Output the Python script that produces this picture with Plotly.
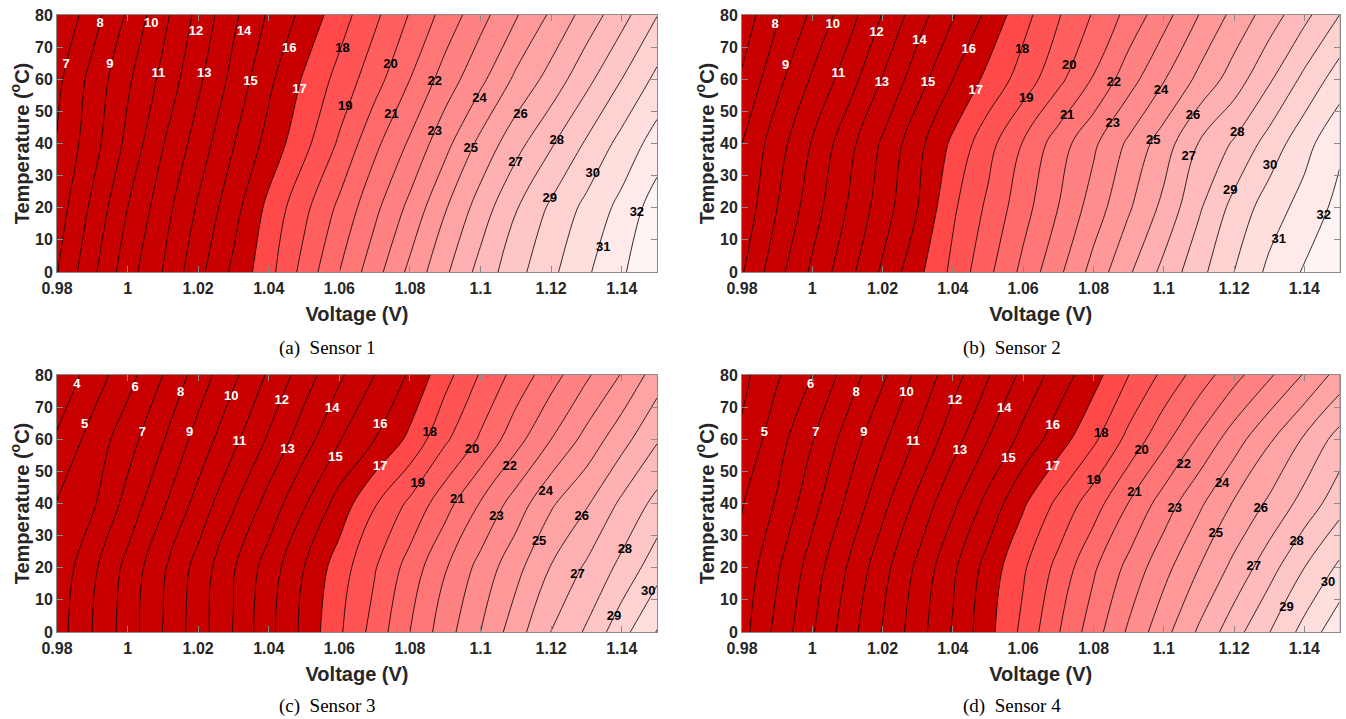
import plotly.graph_objects as go

# ---------------- data ----------------
voltage = [0.98, 0.99, 1.00, 1.01, 1.02, 1.03, 1.04, 1.05, 1.06,
           1.07, 1.08, 1.09, 1.10, 1.11, 1.12, 1.13, 1.14, 1.15]
temperature = [0, 20, 40, 60, 80]

sensor1_z = [
    [7.96, 9.76, 11.58, 13.03, 14.70, 16.21, 17.67, 19.35, 21.00, 22.60, 24.25, 25.82, 27.36, 28.65, 29.77, 30.85, 31.86, 32.90],
    [7.48, 9.21, 11.00, 12.57, 14.13, 15.63, 17.27, 18.74, 20.22, 21.75, 23.27, 24.92, 26.46, 27.93, 29.18, 30.27, 31.30, 32.50],
    [7.05, 8.58, 10.27, 11.95, 13.44, 14.96, 16.35, 17.71, 19.15, 20.75, 22.15, 23.69, 25.27, 26.64, 27.88, 29.13, 30.33, 31.45],
    [6.75, 8.32, 9.83, 11.26, 12.80, 14.30, 15.78, 17.12, 18.33, 19.59, 21.00, 22.44, 23.75, 25.20, 26.38, 27.71, 29.00, 30.25],
    [6.06, 7.55, 9.14, 10.71, 12.28, 13.79, 15.13, 16.28, 17.55, 18.78, 20.07, 21.37, 22.65, 23.91, 25.16, 26.40, 27.65, 28.97],
]
sensor2_z = [
    [8.91, 10.65, 12.19, 13.66, 15.16, 16.73, 18.25, 19.76, 21.27, 22.77, 24.36, 25.85, 27.29, 28.67, 30.00, 31.23, 32.10, 33.00],
    [8.32, 10.00, 11.55, 13.04, 14.52, 16.00, 17.83, 19.21, 20.62, 22.01, 23.46, 24.87, 26.27, 27.86, 29.33, 30.50, 31.38, 32.30],
    [8.00, 9.54, 11.08, 12.62, 14.15, 15.69, 17.21, 18.64, 20.07, 21.50, 22.81, 24.19, 25.50, 27.05, 28.13, 29.40, 30.65, 31.80],
    [7.13, 8.71, 10.13, 11.50, 13.06, 14.56, 16.00, 17.28, 18.44, 19.73, 21.08, 22.58, 23.93, 25.24, 26.47, 27.86, 29.25, 30.50],
    [6.43, 7.86, 9.19, 10.54, 12.05, 13.55, 14.93, 16.24, 17.65, 18.92, 20.09, 21.31, 22.63, 24.01, 25.29, 26.47, 27.73, 29.00],
]
sensor3_z = [
    [5.54, 7.01, 8.48, 10.03, 11.52, 13.05, 14.71, 16.27, 17.85, 19.39, 21.00, 22.56, 24.00, 25.55, 27.02, 28.13, 29.66, 31.05],
    [5.29, 6.77, 8.31, 9.85, 11.38, 12.92, 14.47, 16.00, 17.51, 18.92, 20.42, 21.93, 23.34, 24.68, 26.06, 27.16, 28.27, 29.60],
    [5.05, 5.83, 7.35, 8.86, 10.36, 11.88, 13.38, 14.89, 16.41, 17.92, 19.21, 20.62, 22.07, 23.44, 24.86, 25.88, 27.20, 28.30],
    [4.13, 5.38, 6.57, 7.93, 9.39, 10.75, 12.14, 13.57, 14.93, 16.00, 17.23, 18.83, 20.14, 21.62, 23.00, 24.33, 25.63, 26.90],
    [3.19, 4.44, 5.63, 7.00, 8.45, 9.80, 11.14, 12.50, 13.83, 15.00, 16.14, 17.64, 19.10, 20.34, 21.58, 22.83, 24.07, 25.50],
]
sensor4_z = [
    [5.63, 7.30, 8.89, 10.53, 12.07, 13.58, 15.10, 16.68, 18.26, 19.93, 21.54, 23.16, 24.66, 26.15, 27.60, 28.97, 30.34, 31.70],
    [5.31, 6.87, 8.46, 10.05, 11.63, 13.22, 14.81, 16.40, 17.86, 19.31, 20.85, 22.29, 23.67, 25.00, 26.27, 27.60, 29.00, 30.20],
    [4.94, 6.11, 7.65, 9.18, 10.72, 12.26, 13.79, 15.32, 16.86, 18.24, 19.54, 21.03, 22.47, 23.80, 25.10, 26.18, 27.38, 28.60],
    [4.19, 5.58, 6.95, 8.41, 9.80, 11.14, 12.59, 14.00, 15.31, 16.53, 17.80, 19.29, 20.71, 22.14, 23.53, 24.87, 26.13, 27.40],
    [3.71, 4.88, 6.00, 7.43, 8.83, 10.23, 11.59, 12.93, 14.25, 15.47, 16.62, 17.99, 19.24, 20.44, 21.66, 22.84, 24.09, 25.40],
]

# contour labels: level, voltage, temperature
s1_lab_level = [7, 8, 9, 10, 11, 12, 13, 14, 15, 16, 17, 18, 19, 20, 21, 22, 23, 24, 25, 26, 27, 28, 29, 30, 31, 32]
s1_lab_v = [0.9826, 0.9922, 0.9950, 1.0067, 1.0087, 1.0194, 1.0217, 1.0330, 1.0348, 1.0458, 1.0487, 1.0609, 1.0617,
            1.0745, 1.0748, 1.0870, 1.0870, 1.0997, 1.0972, 1.1113, 1.1099, 1.1216, 1.1196, 1.1318, 1.1348, 1.1443]
s1_lab_t = [64.4, 77.2, 64.4, 77.2, 61.7, 74.7, 61.7, 74.7, 59.2, 69.4, 56.7, 69.4, 51.4,
            64.4, 48.8, 59.2, 43.6, 53.9, 38.3, 48.8, 33.9, 40.8, 22.8, 30.6, 7.6, 18.4]

s2_lab_level = [8, 9, 10, 11, 12, 13, 14, 15, 16, 17, 18, 19, 20, 21, 22, 23, 24, 25, 26, 27, 28, 29, 30, 31, 32]
s2_lab_v = [0.9894, 0.9924, 1.0058, 1.0074, 1.0183, 1.0198, 1.0305, 1.0329, 1.0445, 1.0465, 1.0597, 1.0609, 1.0731,
            1.0725, 1.0858, 1.0855, 1.0992, 1.0970, 1.1083, 1.1071, 1.1209, 1.1189, 1.1302, 1.1327, 1.1455]
s2_lab_t = [77.1, 64.1, 77.1, 61.7, 74.5, 59.0, 71.9, 59.0, 69.3, 56.5, 69.3, 53.8, 64.1,
            48.6, 59.0, 46.0, 56.4, 40.9, 48.7, 35.8, 43.5, 25.4, 33.2, 10.1, 17.6]

s3_lab_level = [4, 5, 6, 7, 8, 9, 10, 11, 12, 13, 14, 15, 16, 17, 18, 19, 20, 21, 22, 23, 24, 25, 26, 27, 28, 29, 30]
s3_lab_v = [0.9856, 0.9878, 1.0021, 1.0042, 1.0150, 1.0176, 1.0294, 1.0317, 1.0437, 1.0453, 1.0580, 1.0589, 1.0716,
            1.0716, 1.0856, 1.0822, 1.0976, 1.0934, 1.1083, 1.1045, 1.1185, 1.1166, 1.1287, 1.1275, 1.1409, 1.1378, 1.1475]
s3_lab_t = [77.1, 64.5, 76.1, 61.9, 74.6, 61.9, 73.3, 59.3, 72.0, 56.7, 69.4, 54.1, 64.5,
            51.5, 61.9, 46.2, 56.7, 41.1, 51.5, 36.0, 43.7, 28.2, 35.8, 17.8, 25.6, 4.9, 12.6]

s4_lab_level = [5, 6, 7, 8, 9, 10, 11, 12, 13, 14, 15, 16, 17, 18, 19, 20, 21, 22, 23, 24, 25, 26, 27, 28, 29, 30]
s4_lab_v = [0.9864, 0.9995, 1.0010, 1.0125, 1.0147, 1.0268, 1.0287, 1.0406, 1.0420, 1.0546, 1.0558, 1.0684, 1.0684,
            1.0822, 1.0801, 1.0937, 1.0917, 1.1057, 1.1031, 1.1166, 1.1148, 1.1276, 1.1256, 1.1378, 1.1349, 1.1467]
s4_lab_t = [61.9, 77.1, 61.9, 74.6, 61.9, 74.6, 59.1, 72.0, 56.5, 69.4, 53.9, 64.2, 51.3,
            61.7, 47.2, 56.5, 43.5, 52.0, 38.5, 46.1, 30.6, 38.5, 20.2, 28.2, 7.5, 15.2]

x_tick_vals = [0.98, 1.00, 1.02, 1.04, 1.06, 1.08, 1.10, 1.12, 1.14]
x_tick_text = ["0.98", "1", "1.02", "1.04", "1.06", "1.08", "1.1", "1.12", "1.14"]
y_tick_vals = [0, 10, 20, 30, 40, 50, 60, 70, 80]
captions = ["(a)\u00a0\u00a0Sensor 1", "(b)\u00a0\u00a0Sensor 2", "(c)\u00a0\u00a0Sensor 3", "(d)\u00a0\u00a0Sensor 4"]

# ---------------- styling ----------------
LEVEL_START, LEVEL_END = 3, 33
DARK = "rgb(200,0,0)"


def band_color(level):
    if level < 17:
        return DARK
    gb = min(250, round(72 + (level - 17) * 11.5))
    return f"rgb(255,{gb},{gb})"


n_levels = LEVEL_END - LEVEL_START + 1
colorscale = []
for k in range(0, n_levels + 1):
    lev = LEVEL_START - 1 + k
    lo = max(0.0, (k - 0.5) / n_levels)
    hi = min(1.0, (k + 0.5) / n_levels)
    c = band_color(lev)
    colorscale.append([lo, c])
    colorscale.append([hi, c])

W, H = 1346, 719
x_domains = [[57 / W, 657 / W], [742 / W, 1339.5 / W]]
y_domains = [[1 - 272 / H, 1 - 15 / H], [1 - 632 / H, 1 - 375 / H]]

fig = go.Figure()

sensors = [
    (sensor1_z, s1_lab_level, s1_lab_v, s1_lab_t),
    (sensor2_z, s2_lab_level, s2_lab_v, s2_lab_t),
    (sensor3_z, s3_lab_level, s3_lab_v, s3_lab_t),
    (sensor4_z, s4_lab_level, s4_lab_v, s4_lab_t),
]

FONT = "Liberation Sans, Arial, sans-serif"
TXT = "#262626"
AX = "#8a8a8a"

for i, (z, lev, lv, lt) in enumerate(sensors):
    idx = "" if i == 0 else str(i + 1)
    xa, ya = "x" + idx, "y" + idx
    fig.add_trace(go.Contour(
        x=voltage, y=temperature, z=z,
        contours=dict(start=LEVEL_START, end=LEVEL_END, size=1, coloring="fill", showlines=True),
        line=dict(color="black", width=0.8, smoothing=1.0),
        colorscale=colorscale, showscale=False, hoverinfo="skip",
        xaxis=xa, yaxis=ya,
    ))
    fig.add_trace(go.Scatter(
        x=lv, y=lt, mode="text", text=[str(v) for v in lev],
        textposition="middle center", cliponaxis=False,
        textfont=dict(family=FONT, size=13, weight="bold",
                      color=["white" if v <= 17 else "black" for v in lev]),
        hoverinfo="skip", showlegend=False, xaxis=xa, yaxis=ya,
    ))
    r, c = divmod(i, 2)
    axis_common = dict(showline=True, mirror="ticks", linecolor=AX, linewidth=1,
                       ticks="inside", ticklen=6, tickcolor=AX, showgrid=False, zeroline=False,
                       automargin=False,
                       tickfont=dict(family=FONT, size=16, color=TXT, weight="bold"))
    fig.layout["xaxis" + idx] = dict(
        domain=x_domains[c], anchor=ya, range=[0.98, 1.15],
        tickvals=x_tick_vals, ticktext=x_tick_text, ticklabelstandoff=2,
        title=dict(text="Voltage (V)", standoff=10,
                   font=dict(family=FONT, size=20, color=TXT, weight="bold")),
        **axis_common)
    fig.layout["yaxis" + idx] = dict(
        domain=y_domains[r], anchor=xa, range=[0, 80],
        tickvals=y_tick_vals,
        title=dict(text="Temperature (<sup>o</sup>C)", standoff=0,
                   font=dict(family=FONT, size=20, color=TXT, weight="bold")),
        **axis_common)

cap_x = [327 / W, 1012 / W]
cap_y = [1 - 348 / H, 1 - 706 / H]
for i, cap in enumerate(captions):
    r, c = divmod(i, 2)
    fig.add_annotation(text=cap, x=cap_x[c], y=cap_y[r], xref="paper", yref="paper",
                       showarrow=False, xanchor="center", yanchor="middle",
                       font=dict(family="Liberation Serif, Times New Roman, serif", size=19, color="black"))

fig.update_layout(width=W, height=H, margin=dict(l=0, r=0, t=0, b=0, autoexpand=False),
                  paper_bgcolor="white", plot_bgcolor="white", showlegend=False)

fig.write_html("out.html", config={"displayModeBar": False},
               post_script="document.body.style.margin='0';")
